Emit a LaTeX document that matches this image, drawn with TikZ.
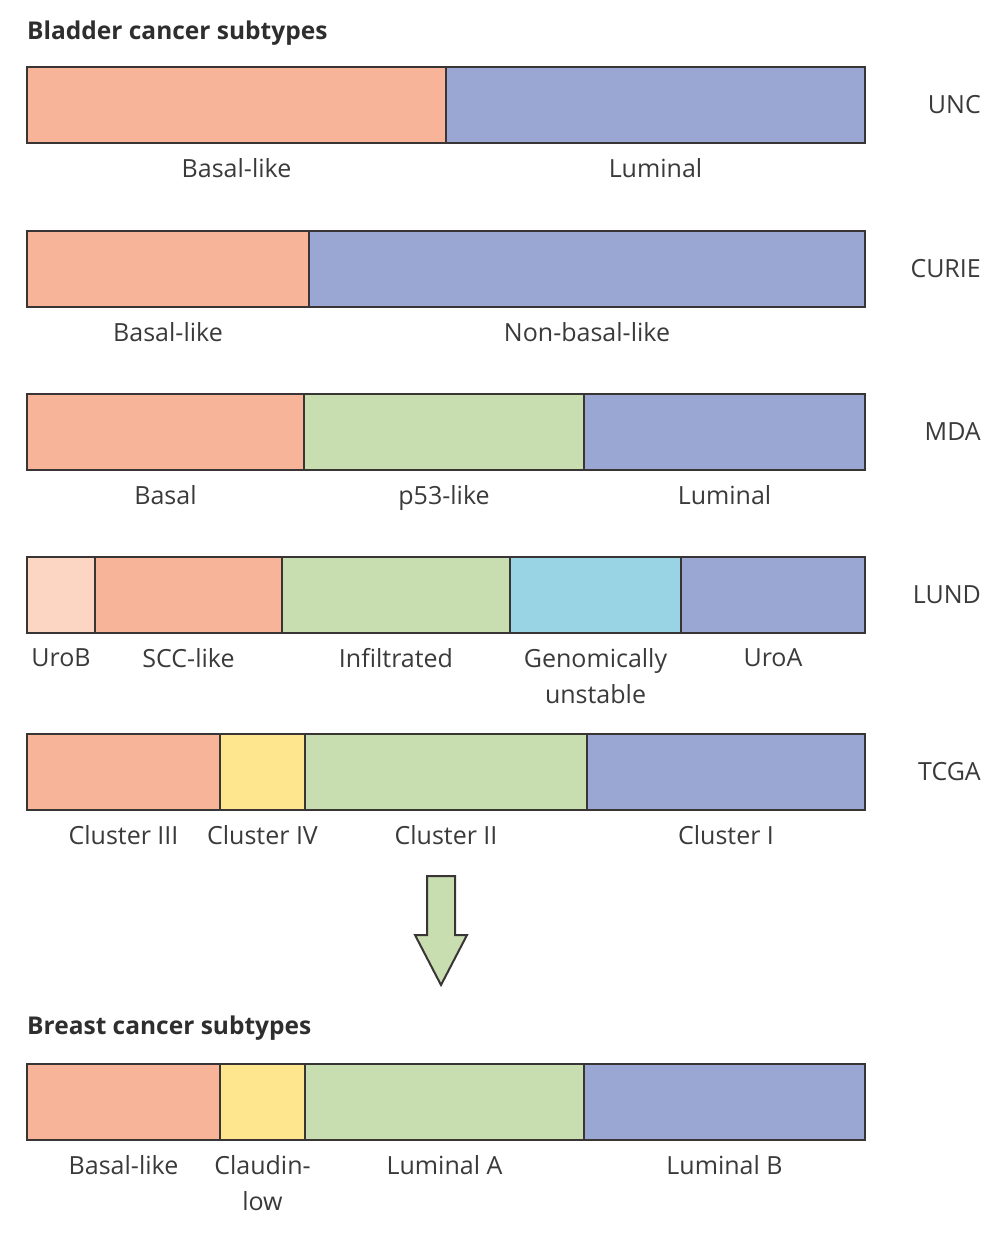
\documentclass[tikz,border=0pt]{standalone}
\usepackage{fontspec}
\setmainfont{Open Sans}
\usetikzlibrary{positioning}
\definecolor{salmon}{HTML}{F8B498}
\definecolor{lsalmon}{HTML}{FCD5C3}
\definecolor{lgreen}{HTML}{C8DDB0}
\definecolor{cyanb}{HTML}{98D4E4}
\definecolor{blueb}{HTML}{9BA7D3}
\definecolor{yel}{HTML}{FDE68E}
\definecolor{edge}{HTML}{3A3535}
\definecolor{txt}{HTML}{3A3A3A}
\tikzset{
  segbox/.style={draw=edge, line width=2pt, inner sep=0pt, outer sep=0pt, anchor=north west, minimum height=76pt},
  lab/.style={text=txt, font=\fontsize{25}{36}\selectfont, align=center, anchor=north, inner sep=0pt},
  rlab/.style={text=txt, font=\fontsize{25}{36}\selectfont, anchor=east, inner sep=0pt},
  ttl/.style={text=txt!80!black, font=\fontsize{24.5}{28}\selectfont\bfseries, anchor=west, inner sep=0pt},
}
\newcommand{\seg}[5]{% name, x1, x2, ytop, color
  \pgfmathsetmacro{\segw}{#3-#2}
  \node[segbox, fill=#5, minimum width=\segw pt] (#1) at (#2,#4) {};
}
\begin{document}
\begin{tikzpicture}[x=1pt,y=-1pt]
\useasboundingbox (0,0) rectangle (1000,1236);
\node[ttl] (t1) at (27,33) {Bladder cancer subtypes};
% UNC
\seg{u1}{27}{446}{67}{salmon}
\seg{u2}{446}{865}{67}{blueb}
\node[rlab] (uncl) at (981,105) {UNC};
\node[lab] at ([yshift=-15pt]u1.south) {Basal-like};
\node[lab] at ([yshift=-15pt]u2.south) {Luminal};
% CURIE
\seg{c1}{27}{309}{231}{salmon}
\seg{c2}{309}{865}{231}{blueb}
\node[rlab] (curiel) at (981,269) {CURIE};
\node[lab] at ([yshift=-15pt]c1.south) {Basal-like};
\node[lab] at ([yshift=-15pt]c2.south) {Non-basal-like};
% MDA
\seg{m1}{27}{304}{394}{salmon}
\seg{m2}{304}{584}{394}{lgreen}
\seg{m3}{584}{865}{394}{blueb}
\node[rlab] (mdal) at (981,432) {MDA};
\node[lab] at ([yshift=-15pt]m1.south) {Basal};
\node[lab] at ([yshift=-15pt]m2.south) {p53-like};
\node[lab] at ([yshift=-15pt]m3.south) {Luminal};
% LUND
\seg{l1}{27}{95}{557}{lsalmon}
\seg{l2}{95}{282}{557}{salmon}
\seg{l3}{282}{510}{557}{lgreen}
\seg{l4}{510}{681}{557}{cyanb}
\seg{l5}{681}{865}{557}{blueb}
\node[rlab] (lundl) at (981,595) {LUND};
\node[lab] at ([yshift=-15pt]l1.south) {UroB};
\node[lab] at ([yshift=-15pt]l2.south) {SCC-like};
\node[lab] at ([yshift=-15pt]l3.south) {Infiltrated};
\node[lab] at ([yshift=-15pt]l4.south) {Genomically\\unstable};
\node[lab] at ([yshift=-15pt]l5.south) {UroA};
% TCGA
\seg{g1}{27}{220}{734}{salmon}
\seg{g2}{220}{305}{734}{yel}
\seg{g3}{305}{587}{734}{lgreen}
\seg{g4}{587}{865}{734}{blueb}
\node[rlab] (tcgal) at (981,772) {TCGA};
\node[lab] at ([yshift=-15pt]g1.south) {Cluster III};
\node[lab] at ([yshift=-15pt]g2.south) {Cluster IV};
\node[lab] at ([yshift=-15pt]g3.south) {Cluster II};
\node[lab] at ([yshift=-15pt]g4.south) {Cluster I};
% arrow
\draw[draw=edge, line width=2pt, fill=lgreen, line join=miter]
  (427,876) -- (455,876) -- (455,935) -- (467,935) -- (441,985) -- (415,935) -- (427,935) -- cycle;
% Breast
\node[ttl] (t2) at (27,1028) {Breast cancer subtypes};
\seg{b1}{27}{220}{1064}{salmon}
\seg{b2}{220}{305}{1064}{yel}
\seg{b3}{305}{584}{1064}{lgreen}
\seg{b4}{584}{865}{1064}{blueb}
\node[lab] at ([yshift=-15pt]b1.south) {Basal-like};
\node[lab] at ([yshift=-15pt]b2.south) {Claudin-\\low};
\node[lab] at ([yshift=-15pt]b3.south) {Luminal A};
\node[lab] at ([yshift=-15pt]b4.south) {Luminal B};
\end{tikzpicture}
\end{document}
